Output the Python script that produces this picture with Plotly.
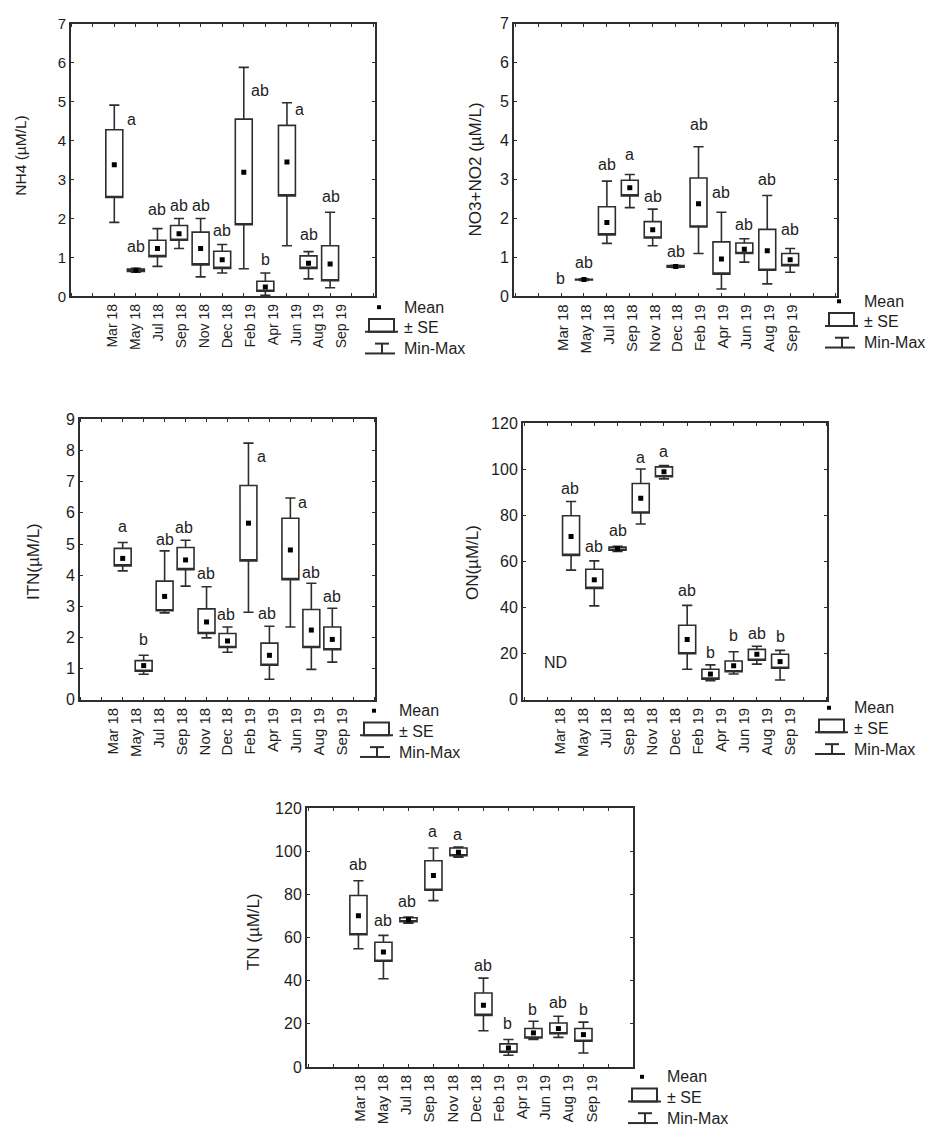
import numpy as np
import plotly.graph_objects as go

W, H = 933, 1136
FONT = "Liberation Sans, Arial, sans-serif"
INK = "#1e1e1e"
LINE = "#2e2e2e"

months = ["Mar 18", "May 18", "Jul 18", "Sep 18", "Nov 18", "Dec 18",
          "Feb 19", "Apr 19", "Jun 19", "Aug 19", "Sep 19"]

# ---------------- data ----------------
nh4_min  = [1.90, 0.62, 0.77, 1.23, 0.50, 0.60, 0.71, 0.03, 1.30, 0.45, 0.22]
nh4_lo   = [2.54, 0.64, 1.02, 1.44, 0.81, 0.72, 1.84, 0.13, 2.58, 0.72, 0.40]
nh4_mean = [3.38, 0.67, 1.23, 1.61, 1.23, 0.94, 3.19, 0.24, 3.45, 0.85, 0.83]
nh4_hi   = [4.28, 0.70, 1.44, 1.82, 1.65, 1.16, 4.55, 0.39, 4.39, 1.04, 1.30]
nh4_max  = [4.91, 0.72, 1.74, 2.00, 2.00, 1.33, 5.88, 0.60, 4.97, 1.15, 2.16]
nh4_grp  = ["a", "ab", "ab", "ab", "ab", "ab", "ab", "b", "a", "ab", "ab"]

no3_min  = [None, 0.41, 1.36, 2.28, 1.30, 0.74, 1.10, 0.19, 0.88, 0.32, 0.62]
no3_lo   = [None, 0.42, 1.58, 2.58, 1.50, 0.75, 1.78, 0.57, 1.10, 0.67, 0.79]
no3_mean = [None, 0.43, 1.90, 2.79, 1.71, 0.77, 2.38, 0.96, 1.21, 1.17, 0.94]
no3_hi   = [None, 0.44, 2.30, 2.98, 1.92, 0.79, 3.04, 1.40, 1.37, 1.72, 1.10]
no3_max  = [None, 0.45, 2.96, 3.13, 2.24, 0.80, 3.84, 2.16, 1.48, 2.59, 1.23]
no3_grp  = ["b", "ab", "ab", "a", "ab", "ab", "ab", "ab", "ab", "ab", "ab"]

itn_min  = [4.14, 0.82, 2.79, 3.65, 1.99, 1.53, 2.81, 0.66, 2.34, 0.98, 1.21]
itn_lo   = [4.30, 0.92, 2.86, 4.18, 2.13, 1.68, 4.46, 1.11, 3.86, 1.68, 1.61]
itn_mean = [4.54, 1.10, 3.32, 4.49, 2.50, 1.89, 5.67, 1.43, 4.81, 2.24, 1.94]
itn_hi   = [4.86, 1.26, 3.81, 4.89, 2.92, 2.13, 6.88, 1.82, 5.83, 2.90, 2.34]
itn_max  = [5.05, 1.43, 4.78, 5.12, 3.63, 2.34, 8.24, 2.36, 6.48, 3.74, 2.94]
itn_grp  = ["a", "b", "ab", "ab", "ab", "ab", "a", "ab", "a", "ab", "ab"]

on_min  = [None, 56.3, 40.8, 64.4, 76.3, 95.9, 13.3, 8.3, 11.2, 15.5, 8.6]
on_lo   = [None, 62.7, 48.4, 64.9, 81.1, 96.8, 20.0, 9.0, 12.2, 17.2, 13.7]
on_mean = [None, 70.9, 52.1, 65.6, 87.5, 99.0, 26.2, 11.2, 14.8, 19.8, 16.6]
on_hi   = [None, 79.9, 56.7, 66.3, 93.9, 101.1, 32.4, 13.3, 16.9, 21.9, 19.8]
on_max  = [None, 86.1, 60.3, 66.6, 100.2, 101.7, 41.0, 15.2, 20.9, 23.3, 21.5]
on_grp  = ["ND", "ab", "ab", "ab", "a", "a", "ab", "b", "b", "ab", "b"]

tn_min  = [54.8, 40.9, 66.7, 77.1, 97.3, 16.8, 5.4, 12.7, 13.7, 6.5, None]
tn_lo   = [61.3, 49.0, 67.3, 81.9, 97.9, 23.9, 6.8, 13.4, 15.4, 11.9, None]
tn_mean = [70.1, 53.3, 68.3, 88.8, 99.5, 28.6, 8.8, 15.8, 17.8, 15.0, None]
tn_hi   = [79.5, 57.8, 69.2, 95.6, 101.5, 34.3, 10.7, 17.8, 20.4, 17.8, None]
tn_max  = [86.3, 61.0, 69.5, 101.5, 101.9, 41.2, 12.7, 21.2, 23.5, 20.8, None]
tn_grp  = ["ab", "ab", "ab", "a", "a", "ab", "b", "b", "ab", "b", ""]

# ---------------- layout / style per panel ----------------
panels = [
    dict(title="NH4 (µM/L)", stats=(nh4_min, nh4_lo, nh4_mean, nh4_hi, nh4_max), grp=nh4_grp,
         xpx=(71, 375), ypx=(15, 292), yr=(0, 7), dtick=1, xr=(-1.82, 11.45),
         bshift=0.07, bscale=0.942, tfs=14, ttl=(21, 149), ttl_fs=15.5, leg=(402, 303),
         off=[(17, 14), (0, -22), (0, -19), (0, -13), (0, -13), (0, -14), (16, 23), (0, -14),
              (13, 7), (0, -17), (1, -16)]),
    dict(title="NO3+NO2 (µM/L)", stats=(no3_min, no3_lo, no3_mean, no3_hi, no3_max), grp=no3_grp,
         xpx=(514, 837), ypx=(15, 292), yr=(0, 7), dtick=1, xr=(-2.16, 11.98),
         bshift=-0.10, bscale=1.003, tfs=15, ttl=(475, 163), ttl_fs=17, leg=(862, 297),
         off=[(-3, -18), (0, -16), (0, -17), (0, -20), (0, -13), (0, -14), (0, -22), (0, -20),
              (0, -14), (0, -16), (0, -19)]),
    dict(title="ITN(µM/L)", stats=(itn_min, itn_lo, itn_mean, itn_hi, itn_max), grp=itn_grp,
         xpx=(80, 375), ypx=(417, 702), yr=(0, 9), dtick=1, xr=(-1.46, 11.46),
         bshift=0.41, bscale=0.918, tfs=15, ttl=(33, 562), ttl_fs=17, leg=(397, 713),
         off=[(0, -16), (0, -16), (0, -11), (-2, -13), (-1, -13), (-2, -12), (13, 13), (-2, -13),
              (12, 5), (0, -11), (0, -12)]),
    dict(title="ON(µM/L)", stats=(on_min, on_lo, on_mean, on_hi, on_max), grp=on_grp,
         xpx=(523, 827), ypx=(421, 702), yr=(0, 120), dtick=20, xr=(-1.61, 11.61),
         bshift=-0.53, bscale=1.01, tfs=15, ttl=(472, 563), ttl_fs=17, leg=(852, 710),
         off=[(-5, -37), (-1, -13), (0, -14), (0, -16), (0, -11), (0, -14), (0, -15), (0, -12),
              (0, -16), (0, -13), (0, -14)]),
    dict(title="TN (µM/L)", stats=(tn_min, tn_lo, tn_mean, tn_hi, tn_max), grp=tn_grp,
         xpx=(307, 633), ypx=(812, 1075), yr=(0, 120), dtick=20, xr=(-2.29, 11.78),
         bshift=-0.07, bscale=1.079, tfs=15, ttl=(253, 937), ttl_fs=17, leg=(665, 1085),
         off=[(0, -16), (0, -15), (-1, -16), (-1, -17), (-1, -13), (0, -13), (-1, -16), (-1, -12),
              (0, -14), (0, -13), (0, 0)]),
]

fx = lambda px: px / W
fy = lambda py: 1 - py / H

fig = go.Figure()
shapes, annotations = [], []
layout = dict(width=W, height=H, margin=dict(l=0, r=0, t=0, b=0),
              paper_bgcolor="white", plot_bgcolor="white", showlegend=False,
              font=dict(family=FONT, color=INK))

for k, p in enumerate(panels):
    sfx = "" if k == 0 else str(k + 1)
    xa, ya = "x" + sfx, "y" + sfx
    mn, lo, me, hi, mx = p["stats"]
    idx = [i for i in range(len(months)) if me[i] is not None]
    pos = [p["bshift"] + p["bscale"] * i for i in idx]

    fig.add_trace(go.Box(
        x=pos, q1=[lo[i] for i in idx], median=[lo[i] for i in idx], q3=[hi[i] for i in idx],
        lowerfence=[mn[i] for i in idx], upperfence=[mx[i] for i in idx],
        width=0.74, whiskerwidth=0.6, fillcolor="rgba(255,255,255,0)",
        line=dict(color=LINE, width=1.6), boxpoints=False, hoverinfo="skip",
        xaxis=xa, yaxis=ya))
    fig.add_trace(go.Scatter(
        x=pos, y=[me[i] for i in idx], mode="markers",
        marker=dict(symbol="square", size=5, color="black"),
        xaxis=xa, yaxis=ya, hoverinfo="skip"))

    # significance letters
    for i, g in enumerate(p["grp"]):
        if not g:
            continue
        dx, dy = p["off"][i]
        if me[i] is None:
            ax_x, ax_y = i, p["yr"][0]
        else:
            ax_x, ax_y = p["bshift"] + p["bscale"] * i, mx[i]
        annotations.append(dict(x=ax_x, y=ax_y, xref=xa, yref=ya, text=g, showarrow=False,
                                xanchor="center", yanchor="middle", xshift=dx, yshift=-dy,
                                font=dict(size=16, family=FONT, color=INK)))

    x0, x1 = p["xpx"]
    y0, y1 = p["ypx"]
    common = dict(showline=True, linewidth=2, linecolor=LINE, showgrid=False, zeroline=False)
    layout["xaxis" + sfx] = dict(
        domain=[fx(x0), fx(x1)], range=list(p["xr"]), anchor=ya,
        tickmode="array", tickvals=list(range(len(months))), ticktext=months,
        tickangle=-90, ticks="", mirror="ticks",
        minor=dict(ticks="inside", ticklen=3, tick0=p["bshift"], dtick=p["bscale"],
                   tickcolor=LINE, tickwidth=1.2),
        tickfont=dict(size=p["tfs"], family=FONT, color=INK), **common)
    layout["yaxis" + sfx] = dict(
        domain=[fy(y1), fy(y0)], range=list(p["yr"]), anchor=xa,
        dtick=p["dtick"], ticks="inside", ticklen=3, tickcolor=LINE, mirror="ticks",
        tickfont=dict(size=p["tfs"] + 1, family=FONT, color=INK), **common)

    # y-axis title
    tx, ty = p["ttl"]
    annotations.append(dict(x=fx(tx), y=fy(ty), xref="paper", yref="paper", text=p["title"],
                            textangle=-90, showarrow=False, xanchor="center", yanchor="middle",
                            font=dict(size=p["ttl_fs"], family=FONT, color=INK)))

    # legend (Mean / ± SE / Min-Max)
    lx, ly = p["leg"]
    def seg(xa0, ya0, xa1, ya1):
        shapes.append(dict(type="line", xref="paper", yref="paper",
                           x0=fx(xa0), y0=fy(ya0), x1=fx(xa1), y1=fy(ya1),
                           line=dict(color=LINE, width=2)))
    shapes.append(dict(type="rect", xref="paper", yref="paper",
                       x0=fx(lx - 25), x1=fx(lx - 21), y0=fy(ly - 2), y1=fy(ly + 2),
                       fillcolor="black", line=dict(width=0)))
    shapes.append(dict(type="rect", xref="paper", yref="paper",
                       x0=fx(lx - 33), x1=fx(lx - 8), y0=fy(ly + 25), y1=fy(ly + 12),
                       line=dict(color=LINE, width=2)))
    seg(lx - 37, ly + 25, lx - 4, ly + 25)
    seg(lx - 27, ly + 37, lx - 13, ly + 37)
    seg(lx - 20, ly + 37, lx - 20, ly + 47)
    seg(lx - 37, ly + 47, lx - 7, ly + 47)
    for j, t in enumerate(["Mean", "± SE", "Min-Max"]):
        annotations.append(dict(x=fx(lx), y=fy(ly + 21 * j), xref="paper", yref="paper",
                                text=t, showarrow=False, xanchor="left", yanchor="middle",
                                font=dict(size=16, family=FONT, color=INK)))

layout["shapes"] = shapes
layout["annotations"] = annotations
fig.update_layout(**layout)
fig.write_html("out.html")
